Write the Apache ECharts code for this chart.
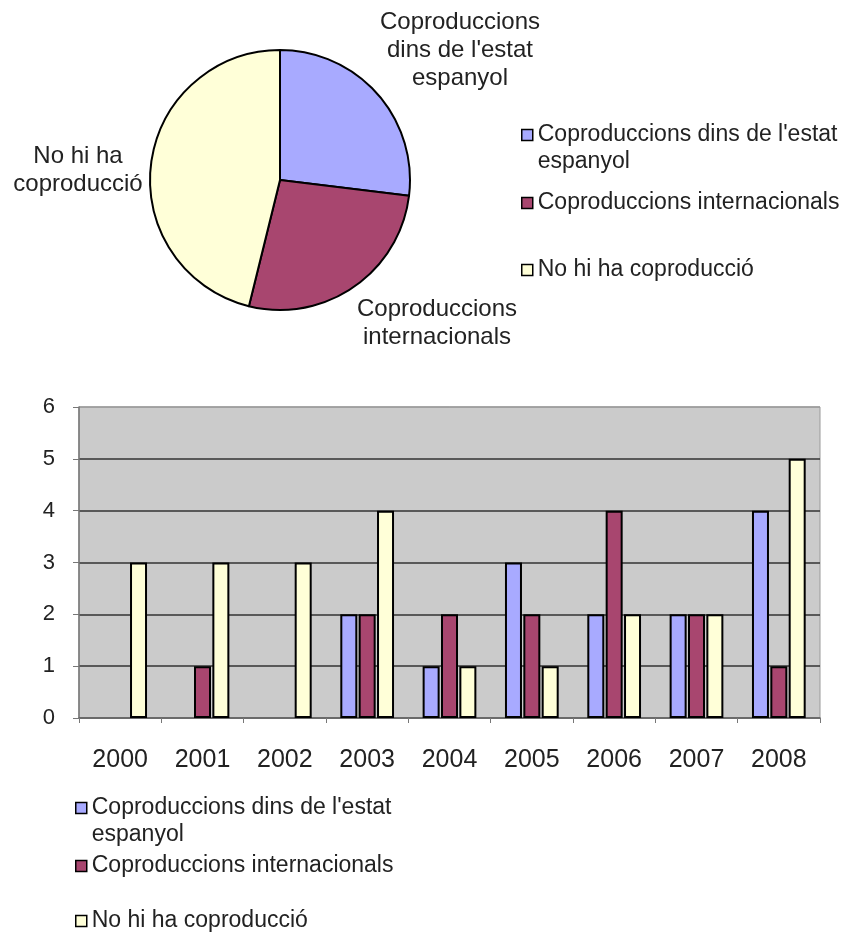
<!DOCTYPE html>
<html>
<head>
<meta charset="utf-8">
<script src="https://cdn.jsdelivr.net/npm/echarts@6/dist/echarts.min.js"></script>
<style>
  html, body { margin: 0; padding: 0; background: #fff; }
  #chart { width: 849px; height: 936px; }
</style>
</head>
<body>
<div id="chart"></div>
<script>
// data
const seriesNames = [
  "Coproduccions dins de l'estat espanyol",
  'Coproduccions internacionals',
  'No hi ha coproducció'
]
const years = ['2000', '2001', '2002', '2003', '2004', '2005', '2006', '2007', '2008']
const estatValues = [0, 0, 0, 2, 1, 3, 2, 2, 4]
const internacionalsValues = [0, 1, 0, 2, 2, 2, 4, 2, 1]
const noCoproValues = [3, 3, 3, 4, 1, 1, 2, 2, 5]
const pieValues = [14, 14, 24]
const yTicks = [0, 1, 2, 3, 4, 5, 6]

const colors = ['#a8aaff', '#a8466f', '#ffffd8']
const font = "'Liberation Sans', Arial, sans-serif"

// wrapped texts (an empty first line keeps the icon on the first real line)
const pieLabelText = [
  "Coproduccions\ndins de l'estat\nespanyol",
  'Coproduccions\ninternacionals',
  'No hi ha\ncoproducció'
]
const legendText = {
  "Coproduccions dins de l'estat espanyol": "\nCoproduccions dins de l'estat\nespanyol"
}

// layout
const pieLabelPos = [[460, 50], [437, 323], [78, 170]]
const pieLegendY = [135, 203, 270]
const barLegendY = [808, 866, 921]

function makeLegend(name, left, centerY) {
  const twoLine = !!legendText[name]
  return {
    orient: 'vertical',
    left: left,
    top: twoLine ? centerY - 40.5 : centerY - 13.5,
    data: [name],
    icon: 'rect',
    itemWidth: 11,
    itemHeight: 11,
    itemGap: 0,
    padding: 0,
    selectedMode: false,
    itemStyle: { borderColor: '#000', borderWidth: 1.5 },
    formatter: n => legendText[n] || n,
    textStyle: {
      fontFamily: font,
      fontSize: 23,
      lineHeight: 27,
      color: '#222'
    }
  }
}

const legends = []
seriesNames.forEach((n, i) => {
  legends.push(makeLegend(n, 521, pieLegendY[i]))
  legends.push(makeLegend(n, 75, barLegendY[i]))
})

const chart = echarts.init(document.getElementById('chart'))

// zero-height bars get no outline, as in the original
const barSeries = [estatValues, internacionalsValues, noCoproValues].map((vals, i) => ({
  name: seriesNames[i],
  type: 'bar',
  data: vals.map(v => (v === 0 ? { value: v, itemStyle: { borderWidth: 0 } } : v)),
  barWidth: 17,
  barGap: '8%',
  itemStyle: { color: colors[i], borderColor: '#000', borderWidth: 2 }
}))

chart.setOption({
  animation: false,
  textStyle: { fontFamily: font },
  legend: legends,
  grid: {
    left: 79,
    right: 29,
    top: 407,
    bottom: 218,
    show: true,
    backgroundColor: '#cbcbcb',
    borderColor: '#9a9a9a',
    borderWidth: 1
  },
  xAxis: {
    type: 'category',
    data: years,
    axisLine: { lineStyle: { color: '#666', width: 1.5 } },
    axisTick: { show: true, length: 5, lineStyle: { color: '#777' } },
    axisLabel: { fontSize: 25, color: '#222', margin: 30 }
  },
  yAxis: {
    type: 'value',
    min: yTicks[0],
    max: yTicks[yTicks.length - 1],
    interval: 1,
    axisLine: { show: true, lineStyle: { color: '#777', width: 1.5 } },
    axisTick: { show: true, length: 6, lineStyle: { color: '#777' } },
    axisLabel: { fontSize: 22, color: '#222', margin: 24 },
    splitLine: {
      lineStyle: {
        color: ['#666', '#333', '#333', '#333', '#333', '#333', '#9a9a9a'],
        width: 1.5
      }
    }
  },
  series: [
    {
      type: 'pie',
      center: [280, 180],
      radius: 130,
      startAngle: 90,
      clockwise: true,
      data: seriesNames.map((n, i) => ({
        name: n,
        value: pieValues[i],
        itemStyle: { color: colors[i] }
      })),
      itemStyle: { borderColor: '#000', borderWidth: 2 },
      label: {
        show: true,
        position: 'outside',
        fontSize: 24,
        lineHeight: 28,
        color: '#222',
        overflow: 'none',
        formatter: p => pieLabelText[p.dataIndex]
      },
      labelLine: { show: false },
      labelLayout: p => ({
        x: pieLabelPos[p.dataIndex][0],
        y: pieLabelPos[p.dataIndex][1],
        align: 'center',
        verticalAlign: 'middle'
      }),
      emphasis: { disabled: true }
    },
    ...barSeries
  ]
})
</script>
</body>
</html>
